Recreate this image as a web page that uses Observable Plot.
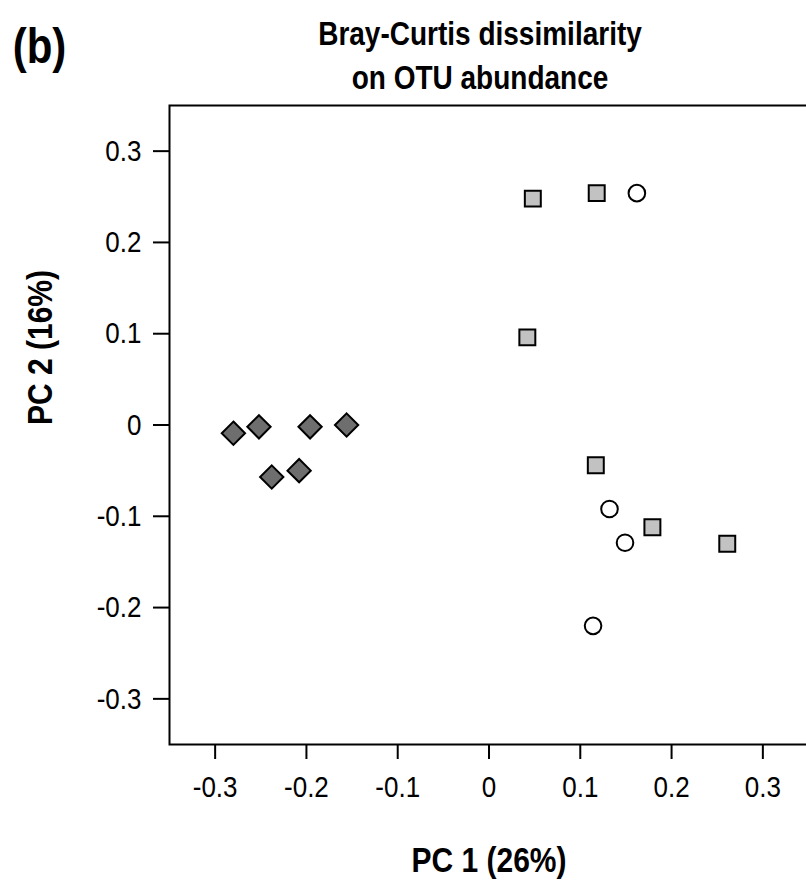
<!DOCTYPE html>
<html>
<head>
<meta charset="utf-8">
<script src="https://cdn.jsdelivr.net/npm/d3@7"></script>
<script src="https://cdn.jsdelivr.net/npm/@observablehq/plot@0.6"></script>
<style>
  html, body { margin: 0; padding: 0; background: #fff; }
  #chart { width: 806px; height: 882px; overflow: hidden; position: relative; }
  #chart svg { max-width: none !important; font-family: "Liberation Sans", Arial, sans-serif; }
</style>
</head>
<body>
<div id="chart"></div>
<script>
// Group 1: dark grey diamonds
const diamondX = [-0.280, -0.252, -0.196, -0.156, -0.238, -0.208];
const diamondY = [-0.009, -0.002, -0.002, 0.000, -0.057, -0.050];
// Group 2: light grey squares
const squareX = [0.048, 0.118, 0.042, 0.117, 0.179, 0.261];
const squareY = [0.248, 0.254, 0.096, -0.044, -0.112, -0.130];
// Group 3: open circles
const circleX = [0.162, 0.132, 0.149, 0.114];
const circleY = [0.254, -0.092, -0.129, -0.220];

const xTicks = [-0.3, -0.2, -0.1, 0, 0.1, 0.2, 0.3];
const yTicks = [-0.3, -0.2, -0.1, 0, 0.1, 0.2, 0.3];

const titleLines = ["Bray-Curtis dissimilarity", "on OTU abundance"];
const panelLabel = "(b)";
const xLabel = "PC 1 (26%)";
const yLabel = "PC 2 (16%)";

const toPts = (xs, ys) => xs.map((x, i) => ({x, y: ys[i]}));
const diamonds = toPts(diamondX, diamondY);
const squares = toPts(squareX, squareY);
const circles = toPts(circleX, circleY);

const fmt = d => d === 0 ? "0" : d.toFixed(1);

const chart = Plot.plot({
  width: 830,
  height: 882,
  marginLeft: 169,
  marginRight: 22,
  marginTop: 105,
  marginBottom: 138,
  style: {fontFamily: "'Liberation Sans', Arial, sans-serif", background: "#fff", color: "#000", maxWidth: "none"},
  x: {domain: [-0.35, 0.35], label: null},
  y: {domain: [-0.35, 0.35], label: null},
  marks: [
    Plot.frame({stroke: "#000", strokeWidth: 2}),
    Plot.axisX(xTicks, {tickSize: 15, tickPadding: 16, tickFormat: fmt, fontSize: 26, strokeWidth: 2, label: null}),
    Plot.axisY(yTicks, {tickSize: 16, tickPadding: 12, tickFormat: fmt, fontSize: 26, strokeWidth: 2, label: null}),
    Plot.dot(diamonds, {x: "x", y: "y", symbol: "diamond2", r: 10.5, fill: "#6e6e6e", stroke: "#000", strokeWidth: 2}),
    Plot.dot(squares, {x: "x", y: "y", symbol: "square", r: 9, fill: "#c2c2c2", stroke: "#000", strokeWidth: 2}),
    Plot.dot(circles, {x: "x", y: "y", symbol: "circle", r: 8.3, fill: "#fff", stroke: "#000", strokeWidth: 2}),
    Plot.text([titleLines[0]], {frameAnchor: "top", dx: -9, dy: -71, fontSize: 28, fontWeight: "bold", lineAnchor: "middle"}),
    Plot.text([titleLines[1]], {frameAnchor: "top", dx: -9, dy: -27, fontSize: 28, fontWeight: "bold", lineAnchor: "middle"}),
    Plot.text([panelLabel], {frameAnchor: "top-left", dx: -130, dy: -58, fontSize: 42, fontWeight: "bold", textAnchor: "middle", lineAnchor: "middle"}),
    Plot.text([xLabel], {frameAnchor: "bottom", dy: 116, fontSize: 30, fontWeight: "bold", lineAnchor: "middle"}),
    Plot.text([yLabel], {frameAnchor: "left", dx: -129, rotate: -90, fontSize: 30, fontWeight: "bold", lineAnchor: "middle"})
  ]
});

// The reference text is set in a tall, narrow face: stretch glyphs vertically about their anchor.
const stretch = 1.17;
chart.querySelectorAll("text").forEach(t => {
  const tr = t.getAttribute("transform");
  if (tr) {
    t.setAttribute("transform", tr + ` scale(1,${stretch})`);
  } else {
    const x = +(t.getAttribute("x") || 0), y = +(t.getAttribute("y") || 0);
    t.setAttribute("transform", `translate(${x},${y}) scale(1,${stretch}) translate(${-x},${-y})`);
  }
});
document.getElementById("chart").appendChild(chart);
</script>
</body>
</html>
